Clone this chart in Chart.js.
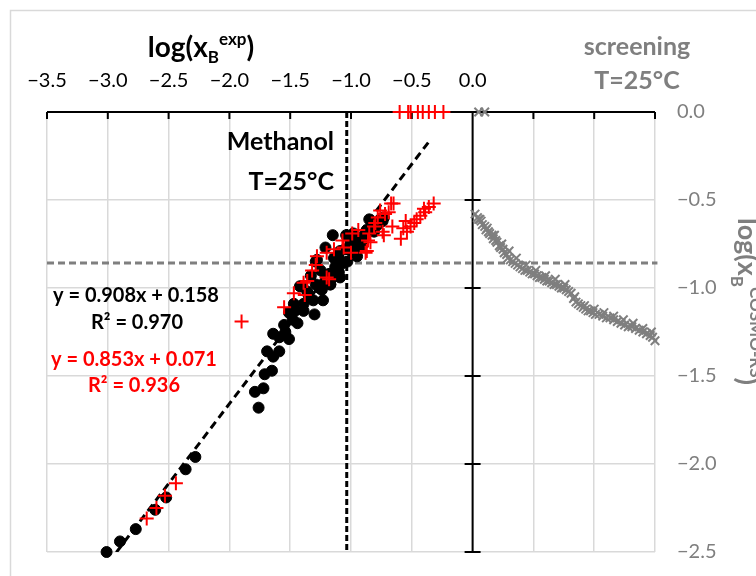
<!DOCTYPE html>
<html>
<head>
<meta charset="utf-8">
<script src="https://cdn.jsdelivr.net/npm/chart.js@4.4.0/dist/chart.umd.min.js"></script>
<style>
html,body{margin:0;padding:0;background:#fff;}
canvas{display:block;}
</style>
</head>
<body>
<canvas id="c" width="756" height="576"></canvas>
<script>
// ---------- DATA ----------
// Methanol, experimental vs COSMO-RS (black circles)
const methX = [-3.01,-2.90,-2.77,-2.61,-2.52,-2.36,-2.28,
  -1.76,-1.79,-1.72,-1.71,-1.65,-1.69,-1.64,-1.59,-1.64,-1.59,-1.54,-1.51,-1.55,-1.48,-1.44,-1.51,-1.46,-1.39,-1.30,-1.47,-1.39,-1.35,-1.31,-1.23,-1.24,-1.17,-1.15,-1.11,
  -1.15,-1.21,-1.28,-1.25,-1.18,-1.10,-1.03,-1.05,-1.00,-1.02,-0.95,-0.98,-0.91,-0.87,-0.83,-0.78,-0.76,-0.85,-0.92,-0.98,-1.14,-1.09,-1.10,-1.22,-1.17,-1.29,-1.42,-1.33,-1.09,
  -1.04,-1.00,-1.21,-1.29,-1.40,-0.73,-0.74,-0.90,-0.88,-0.81,-0.95,-1.07,-1.13,-1.26,-1.36];
const methY = [-2.50,-2.44,-2.37,-2.26,-2.19,-2.03,-1.96,
  -1.68,-1.59,-1.57,-1.49,-1.47,-1.36,-1.39,-1.36,-1.26,-1.28,-1.25,-1.29,-1.21,-1.18,-1.20,-1.14,-1.13,-1.13,-1.15,-1.09,-1.09,-1.04,-1.07,-1.07,-1.01,-0.98,-0.94,-0.91,
  -0.70,-0.77,-0.84,-0.90,-0.92,-0.91,-0.85,-0.78,-0.79,-0.71,-0.74,-0.69,-0.71,-0.67,-0.65,-0.64,-0.61,-0.61,-0.77,-0.77,-0.83,-0.79,-0.83,-0.97,-0.98,-0.98,-0.99,-0.93,-0.94,
  -0.70,-0.745,-0.93,-0.85,-0.99,-0.60,-0.62,-0.75,-0.70,-0.68,-0.82,-0.86,-0.88,-1.00,-1.02];

// Second data set (red plus signs)
const redX = [-2.68,-2.60,-2.53,-2.44,-1.90,
  -0.60,-0.53,-0.51,-0.45,-0.41,-0.36,-0.31,-0.24,
  -1.55,-1.47,-1.38,-1.36,-1.20,-1.39,-1.32,-1.29,-1.28,-1.20,-1.14,-1.06,-1.07,-0.99,-0.94,-0.87,-0.84,-0.85,-0.81,-0.74,-0.78,-0.76,-0.72,-0.67,-0.66,-1.18,-1.00,-0.88,
  -0.32,-0.36,-0.39,-0.43,-0.46,-0.48,-0.51,-0.54,-0.59,-0.73,-0.69,-0.65,-0.80,-0.86,-0.55,-0.40,-0.57];
const redY = [-2.31,-2.25,-2.18,-2.11,-1.19,
  0,0,0,0,0,0,0,0,
  -1.11,-1.03,-1.04,-0.96,-0.94,-0.97,-0.90,-0.87,-0.82,-0.80,-0.78,-0.77,-0.73,-0.69,-0.67,-0.79,-0.74,-0.69,-0.65,-0.68,-0.60,-0.56,-0.58,-0.52,-0.65,-0.95,-0.80,-0.80,
  -0.52,-0.54,-0.57,-0.59,-0.61,-0.63,-0.65,-0.68,-0.72,-0.70,-0.57,-0.52,-0.63,-0.73,-0.62,-0.55,-0.66];

// Screening, COSMO-RS (grey x markers)
const screenX = [0.05,0.10,
  0.02,0.04,0.05,0.07,0.08,0.10,0.11,0.13,0.14,0.16,0.17,0.19,0.20,0.22,0.23,0.25,0.26,0.28,0.29,0.31,0.33,0.35,0.37,0.39,
  0.41,0.43,0.45,0.47,0.49,0.51,0.53,0.55,0.57,0.59,0.61,0.63,0.65,0.67,0.69,0.71,0.73,0.75,0.77,0.79,0.81,
  0.83,0.85,0.87,0.89,0.91,0.93,0.95,0.97,0.99,1.01,1.04,1.07,1.10,1.13,1.16,1.19,1.22,1.25,1.28,1.31,1.34,1.37,1.40,1.43,1.46,1.48,1.50,
  0.06,0.12,0.18,0.24,0.30,0.36,0.44,0.52,0.60,0.68,0.76,0.84,0.92,1.00,1.08,1.16,1.24,1.32,1.40,1.47];
const screenY = [0,0,
  -0.58,-0.60,-0.61,-0.62,-0.64,-0.65,-0.67,-0.68,-0.69,-0.70,-0.72,-0.73,-0.74,-0.76,-0.77,-0.78,-0.80,-0.81,-0.83,-0.84,-0.85,-0.86,-0.87,-0.88,
  -0.89,-0.90,-0.90,-0.91,-0.92,-0.92,-0.93,-0.94,-0.94,-0.95,-0.96,-0.96,-0.97,-0.98,-0.98,-0.99,-1.00,-1.00,-1.01,-1.02,-1.03,
  -1.06,-1.08,-1.09,-1.10,-1.11,-1.12,-1.13,-1.13,-1.14,-1.15,-1.15,-1.16,-1.17,-1.17,-1.18,-1.19,-1.20,-1.21,-1.22,-1.22,-1.23,-1.24,-1.25,-1.26,-1.27,-1.28,-1.30,
  -0.61,-0.66,-0.70,-0.75,-0.79,-0.83,-0.87,-0.90,-0.93,-0.95,-0.98,-1.05,-1.10,-1.12,-1.14,-1.16,-1.18,-1.20,-1.23,-1.25];

// Trend line of the black series (y = 0.908x + 0.158), end points
const trendX = [-2.93, -0.35];
const trendY = [-2.502, -0.160];
// Reference lines
const methanolExpLimit = -1.035;   // vertical dashed
const screenLimit = -0.858;        // horizontal dashed

// Axes
const xMin = -3.5, xMax = 1.5, yMin = -2.5, yMax = 0, tickStep = 0.5;

// Text
const eqBlack = ['y = 0.908x + 0.158', 'R\u00B2 = 0.970'];
const eqRed = ['y = 0.853x + 0.071', 'R\u00B2 = 0.936'];

// ---------- helpers ----------
const FAM = 'Lato, "Noto Sans", sans-serif';
const GREY = '#7f7f7f';
const pts = (xs, ys) => xs.map((x, i) => ({x, y: ys[i]}));
const fmt = v => {
  if (Math.abs(v) < 1e-9) return '0.0';
  return (v < 0 ? '\u2212' : '') + Math.abs(v).toFixed(1);
};

function rich(ctx, segs, x, y, align, rot) {
  ctx.save();
  ctx.translate(x, y);
  if (rot) ctx.rotate(rot);
  let w = 0;
  segs.forEach(s => { ctx.font = s.f; s.w = ctx.measureText(s.t).width; w += s.w; });
  let cx = align === 'center' ? -w / 2 : align === 'right' ? -w : 0;
  ctx.textAlign = 'left';
  ctx.textBaseline = 'alphabetic';
  segs.forEach(s => { ctx.font = s.f; ctx.fillStyle = s.c; ctx.fillText(s.t, cx, s.dy || 0); cx += s.w; });
  ctx.restore();
}

const decor = {
  id: 'decor',
  beforeDraw(chart) {
    const ctx = chart.ctx;
    ctx.save();
    ctx.fillStyle = '#fff';
    ctx.fillRect(0, 0, chart.width, chart.height);
    ctx.strokeStyle = '#d9d9d9';
    ctx.lineWidth = 1.5;
    ctx.strokeRect(10.5, 10.5, chart.width + 20, chart.height + 20);
    ctx.restore();
  },
  beforeDatasetsDraw(chart) {
    const ctx = chart.ctx, xs = chart.scales.x, ys = chart.scales.y, a = chart.chartArea;
    ctx.save();
    ctx.strokeStyle = '#000';
    ctx.lineWidth = 2;
    const y0 = ys.getPixelForValue(0);
    const x0 = xs.getPixelForValue(0);
    ctx.beginPath();
    ctx.moveTo(a.left, y0); ctx.lineTo(a.right, y0);
    for (let v = xMin; v <= xMax + 1e-9; v += tickStep) {
      const px = xs.getPixelForValue(v);
      ctx.moveTo(px, y0); ctx.lineTo(px, y0 + 7);
    }
    ctx.moveTo(x0, a.top); ctx.lineTo(x0, a.bottom);
    for (let v = yMin; v < yMax - 1e-9; v += tickStep) {
      const py = ys.getPixelForValue(v);
      ctx.moveTo(x0 - 8, py); ctx.lineTo(x0 + 8, py);
    }
    ctx.stroke();
    ctx.restore();
  },
  afterDraw(chart) {
    const ctx = chart.ctx;
    const B = s => 'bold ' + s + 'px ' + FAM;
    // top axis title
    rich(ctx, [
      {t: 'log(x', f: B(28), c: '#000'},
      {t: 'B', f: B(17), c: '#000', dy: 6},
      {t: 'exp', f: B(17), c: '#000', dy: -12},
      {t: ')', f: B(28), c: '#000'}
    ], 201, 57, 'center');
    // right axis title
    rich(ctx, [
      {t: 'log(x', f: B(27), c: GREY},
      {t: 'B', f: B(17), c: GREY, dy: 7},
      {t: 'COSMO-RS', f: B(17), c: GREY, dy: -12},
      {t: ')', f: B(27), c: GREY}
    ], 738, 218, 'left', Math.PI / 2);
    // screening label
    rich(ctx, [{t: 'screening', f: B(25), c: GREY}], 637, 55, 'center');
    rich(ctx, [{t: 'T=25\u00B0C', f: B(25), c: GREY}], 637, 89, 'center');
    // Methanol label
    rich(ctx, [{t: 'Methanol', f: B(25), c: '#000'}], 334, 150, 'right');
    rich(ctx, [{t: 'T=25\u00B0C', f: B(25), c: '#000'}], 334, 190, 'right');
    // equations
    rich(ctx, [{t: eqBlack[0], f: B(20), c: '#000'}], 136, 302, 'center');
    rich(ctx, [{t: eqBlack[1], f: B(20), c: '#000'}], 137, 329, 'center');
    rich(ctx, [{t: eqRed[0], f: B(20), c: '#ff0000'}], 134, 366, 'center');
    rich(ctx, [{t: eqRed[1], f: B(20), c: '#ff0000'}], 134, 392, 'center');
  }
};

new Chart(document.getElementById('c'), {
  type: 'scatter',
  data: {
    datasets: [
      {
        label: 'screening', data: pts(screenX, screenY), order: 4, clip: false,
        pointStyle: 'crossRot', pointRadius: 6, borderColor: GREY, backgroundColor: GREY, borderWidth: 2
      },
      {
        label: 'methanol', data: pts(methX, methY), order: 3, clip: false,
        pointStyle: 'circle', pointRadius: 5.5, borderColor: '#000', backgroundColor: '#000', borderWidth: 1
      },
      {
        label: 'red', data: pts(redX, redY), order: 1, clip: false,
        pointStyle: 'cross', pointRadius: 7, borderColor: '#ff0000', backgroundColor: '#ff0000', borderWidth: 2
      },
      {
        label: 'trend', data: pts(trendX, trendY), order: 2, showLine: true,
        pointRadius: 0, borderColor: '#000', borderWidth: 3, borderDash: [8, 5]
      },
      {
        label: 'vline', data: [{x: methanolExpLimit, y: yMax}, {x: methanolExpLimit, y: yMin}], order: 5, showLine: true,
        pointRadius: 0, borderColor: '#000', borderWidth: 3, borderDash: [6, 3]
      },
      {
        label: 'hline', data: [{x: xMin, y: screenLimit}, {x: xMax + 0.02, y: screenLimit}], order: 6, showLine: true, clip: false,
        pointRadius: 0, borderColor: GREY, borderWidth: 3, borderDash: [7, 4]
      }
    ]
  },
  options: {
    responsive: false,
    animation: false,
    devicePixelRatio: 1,
    layout: {padding: {left: 47, right: 0, top: 0, bottom: 24}},
    plugins: {legend: {display: false}, tooltip: {enabled: false}},
    scales: {
      x: {
        type: 'linear', position: 'top', min: xMin, max: xMax,
        afterFit(s) { s.height = 112; s.paddingLeft = 0; s.paddingRight = 0; },
        border: {display: false},
        grid: {color: '#d9d9d9', lineWidth: 1.5, drawTicks: false},
        ticks: {
          stepSize: tickStep, autoSkip: false, maxRotation: 0, padding: 19,
          color: '#000', font: {family: FAM, size: 20},
          callback: v => v > 0.01 ? '' : fmt(v)
        }
      },
      y: {
        type: 'linear', position: 'right', min: yMin, max: yMax,
        afterFit(s) { s.width = 101; s.paddingTop = 0; s.paddingBottom = 0; },
        border: {display: false},
        grid: {color: '#d9d9d9', lineWidth: 1.5, drawTicks: false},
        ticks: {
          stepSize: tickStep, autoSkip: false, padding: 22,
          color: GREY, font: {family: FAM, size: 20},
          callback: v => fmt(v)
        }
      }
    }
  },
  plugins: [decor]
});
</script>
</body>
</html>
